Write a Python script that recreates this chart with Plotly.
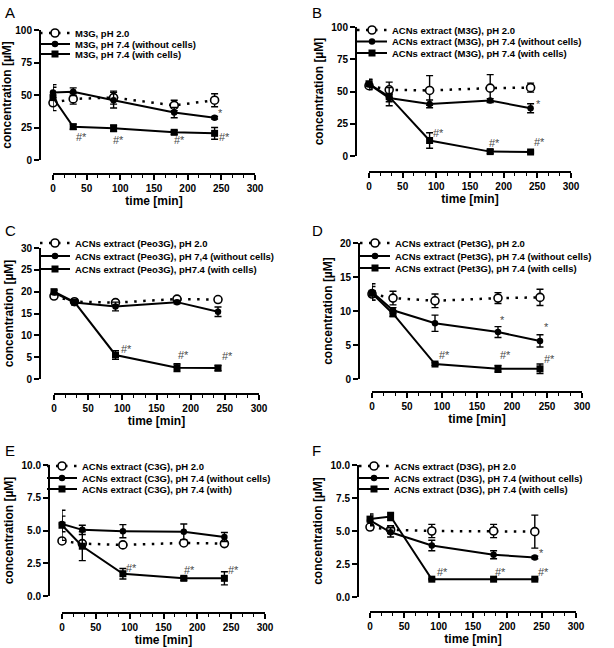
import plotly.graph_objects as go

# ---------------- data ----------------
time_min = [0, 30, 90, 180, 240]

# Panel A - M3G
A_ph2 = [44, 47, 48, 42, 46]
A_ph2_err = [2, 4, 5, 4, 5]
A_wo = [52, 52.5, 46, 36.5, 32.5]
A_wo_err = [4, 3, 6, 4, 1]
A_w = [48, 25.6, 24.4, 21.3, 20.5]
A_w_err = [10, 2, 2.5, 1.5, 4.5]

# Panel B - ACNs extract (M3G)
B_ph2 = [54.5, 51.3, 50.8, 52.6, 53]
B_ph2_err = [3, 6, 11.5, 10.5, 3.5]
B_wo = [55.5, 45, 40.4, 43, 37]
B_wo_err = [4, 3, 3, 1.5, 3.5]
B_w = [56, 46, 12, 3.4, 3.1]
B_w_err = [3, 7, 6, 1.5, 0.8]

# Panel C - ACNs extract (Peo3G)
C_ph2 = [19, 17.7, 17.5, 18.3, 18.2]
C_ph2_err = [0.3, 0.3, 0.5, 0.4, 0.4]
C_wo = [19.8, 17.5, 16.6, 17.6, 15.4]
C_wo_err = [0.5, 0.4, 1.0, 0.4, 1.1]
C_w = [20, 17.6, 5.5, 2.6, 2.5]
C_w_err = [0.4, 0.4, 1.0, 0.9, 0.6]

# Panel D - ACNs extract (Pet3G)
D_ph2 = [12.5, 11.9, 11.5, 11.9, 12]
D_ph2_err = [0.5, 1.0, 1.0, 0.8, 1.2]
D_wo = [12.8, 10.1, 8.2, 6.9, 5.6]
D_wo_err = [1.2, 0.4, 1.2, 0.8, 0.9]
D_w = [12.6, 9.6, 2.2, 1.5, 1.5]
D_w_err = [1.0, 0.4, 0.2, 0.5, 0.7]

# Panel E - ACNs extract (C3G)
E_ph2 = [4.2, 4.0, 3.9, 4.05, 4.0]
E_ph2_err = [0.15, 0.1, 0.1, 0.1, 0.1]
E_wo = [5.5, 5.05, 4.95, 4.9, 4.5]
E_wo_err = [0.6, 0.35, 0.5, 0.6, 0.35]
E_w = [5.4, 3.8, 1.7, 1.35, 1.35]
E_w_err = [1.15, 1.1, 0.4, 0.15, 0.5]

# Panel F - ACNs extract (D3G)
F_ph2 = [5.3, 5.1, 5.0, 5.0, 4.95]
F_ph2_err = [0.2, 0.3, 0.5, 0.5, 1.25]
F_wo = [5.8, 4.9, 3.9, 3.2, 3.0]
F_wo_err = [0.4, 0.35, 0.4, 0.3, 0.1]
F_w = [5.9, 6.1, 1.35, 1.35, 1.35]
F_w_err = [0.4, 0.3, 0.05, 0.05, 0.05]

# legend labels
A_names = ["M3G, pH 2.0", "M3G, pH 7.4 (without cells)", "M3G, pH 7.4 (with cells)"]
B_names = ["ACNs extract (M3G), pH 2.0", "ACNs extract (M3G), pH 7.4 (without cells)",
           "ACNs extract (M3G), pH 7.4 (with cells)"]
C_names = ["ACNs extract (Peo3G), pH 2.0", "ACNs extract (Peo3G), pH 7,4 (without cells)",
           "ACNs extract (Peo3G), pH7.4 (with cells)"]
D_names = ["ACNs extract (Pet3G), pH 2.0", "ACNs extract (Pet3G), pH 7.4 (without cells)",
           "ACNs extract (Pet3G), pH 7.4 (with cells)"]
E_names = ["ACNs extract (C3G), pH 2.0", "ACNs extract (C3G), pH 7.4 (without cells)",
           "ACNs extract (C3G), pH 7.4 (with)"]
F_names = ["ACNs extract (D3G), pH 2.0", "ACNs extract (D3G), pH 7.4 (without cells)",
           "ACNs extract (D3G), pH 7.4 (with cells)"]

# significance marks (label, time, concentration)
A_sig = [("#*", 42, 17.4), ("#*", 97, 15.4), ("#*", 188, 15.4), ("#*", 255, 18), ("*", 249, 36.4)]
B_sig = [("#*", 103, 17.6), ("#*", 187, 9.8), ("#*", 253, 11), ("*", 251, 40.4)]
C_sig = [("#*", 106, 6.9), ("#*", 190, 5.5), ("#*", 254, 5.2)]
D_sig = [("*", 186, 8.7), ("*", 249, 7.6), ("#*", 104, 3.5), ("#*", 190, 3.5), ("#*", 254, 3.0)]
E_sig = [("#*", 102, 2.1), ("#*", 188, 2.0), ("#*", 253, 2.0)]
F_sig = [("*", 250, 3.3), ("#*", 105, 1.9), ("#*", 190, 1.9), ("#*", 253, 1.9)]

# y-axis scales
A_yticks = [0, 25, 50, 75, 100]
B_yticks = [0, 25, 50, 75, 100]
C_yticks = [0, 5, 10, 15, 20, 25, 30]
D_yticks = [0, 5, 10, 15, 20]
E_yticks = [0.0, 2.5, 5.0, 7.5, 10.0]
F_yticks = [0.0, 2.5, 5.0, 7.5, 10.0]
x_ticks = [0, 50, 100, 150, 200, 250, 300]

# ---------------- layout geometry (page pixels in the 614x648 window) ----------------
W, H = 614, 648
FONT = "Arial, Liberation Sans, sans-serif"


def fx(px):
    return px / W


def fy(py):
    return 1 - py / H


panels = [
    dict(letter="A", series=[(A_ph2, A_ph2_err), (A_wo, A_wo_err), (A_w, A_w_err)], names=A_names,
         sig=A_sig, yticks=A_yticks, fmt="d",
         x0=53, x1=255, ytop=30, ybot=160, yaxis_px=40, xaxis_py=174,
         leg_text_x=75, leg_rows=[33, 44, 54], let_xy=(3, 2)),
    dict(letter="B", series=[(B_ph2, B_ph2_err), (B_wo, B_wo_err), (B_w, B_w_err)], names=B_names,
         sig=B_sig, yticks=B_yticks, fmt="d",
         x0=369, x1=571, ytop=27, ybot=156, yaxis_px=356, xaxis_py=172,
         leg_text_x=392, leg_rows=[30, 41.5, 53], let_xy=(310, 2)),
    dict(letter="C", series=[(C_ph2, C_ph2_err), (C_wo, C_wo_err), (C_w, C_w_err)], names=C_names,
         sig=C_sig, yticks=C_yticks, fmt="d",
         x0=54, x1=259, ytop=248, ybot=379, yaxis_px=40, xaxis_py=394,
         leg_text_x=75, leg_rows=[243, 256, 269], let_xy=(3, 220)),
    dict(letter="D", series=[(D_ph2, D_ph2_err), (D_wo, D_wo_err), (D_w, D_w_err)], names=D_names,
         sig=D_sig, yticks=D_yticks, fmt="d",
         x0=372, x1=582, ytop=243, ybot=379, yaxis_px=359, xaxis_py=392,
         leg_text_x=395, leg_rows=[243, 256, 268], let_xy=(310, 220)),
    dict(letter="E", series=[(E_ph2, E_ph2_err), (E_wo, E_wo_err), (E_w, E_w_err)], names=E_names,
         sig=E_sig, yticks=E_yticks, fmt=".1f",
         x0=62, x1=265, ytop=465, ybot=596, yaxis_px=49, xaxis_py=613,
         leg_text_x=82, leg_rows=[466, 478, 489], let_xy=(3, 440)),
    dict(letter="F", series=[(F_ph2, F_ph2_err), (F_wo, F_wo_err), (F_w, F_w_err)], names=F_names,
         sig=F_sig, yticks=F_yticks, fmt=".1f",
         x0=370, x1=576, ytop=465, ybot=597, yaxis_px=358, xaxis_py=612,
         leg_text_x=394, leg_rows=[466, 478, 489], let_xy=(310, 440)),
]

styles = [
    dict(line=dict(color="black", width=2.5, dash="2.5px,6.5px"),
         marker=dict(symbol="circle", size=8, color="white", line=dict(color="black", width=1.6))),
    dict(line=dict(color="black", width=2),
         marker=dict(symbol="circle", size=6.5, color="black")),
    dict(line=dict(color="black", width=2),
         marker=dict(symbol="square", size=7, color="black")),
]

fig = go.Figure()
layout = dict(
    template="none",
    width=W, height=H, margin=dict(l=0, r=0, t=0, b=0, autoexpand=False),
    paper_bgcolor="white", plot_bgcolor="white",
    font=dict(family=FONT, color="black"),
    showlegend=True,
)
annotations = []
leg_count = 0

for i, p in enumerate(panels):
    n = "" if i == 0 else str(i + 1)
    xa, ya = "xaxis" + n, "yaxis" + n
    xdom = [fx(p["x0"]), fx(p["x1"])]
    ydom = [fy(p["ybot"]), fy(p["ytop"])]
    layout[xa] = dict(
        domain=xdom, range=[0, 300], anchor="free", position=fy(p["xaxis_py"]),
        automargin=False,
        tickvals=x_ticks, ticks="outside", ticklen=5, tickwidth=1.5, tickcolor="black",
        showline=True, linecolor="black", linewidth=2, showgrid=False, zeroline=False,
        tickfont=dict(size=10, weight="bold", family=FONT),
        minor=dict(dtick=50 / 3, tick0=0, ticks="outside", ticklen=3, tickwidth=1.3,
                   tickcolor="black", showgrid=False),
        title=dict(text="time [min]", font=dict(size=12, weight="bold", family=FONT), standoff=3),
    )
    layout[ya] = dict(
        domain=ydom, range=[p["yticks"][0], p["yticks"][-1]], anchor="free",
        position=fx(p["yaxis_px"]), automargin=False,
        tickvals=p["yticks"], tickformat=p["fmt"], ticks="outside", ticklen=5, tickwidth=1.5,
        tickcolor="black",
        showline=True, linecolor="black", linewidth=2, showgrid=False, zeroline=False,
        tickfont=dict(size=10, weight="bold", family=FONT),
        title=dict(text="concentration [µM]", font=dict(size=12, weight="bold", family=FONT),
                   standoff=4),
    )
    for k, ((vals, errs), name, st) in enumerate(zip(p["series"], p["names"], styles)):
        leg_count += 1
        lid = "legend" if leg_count == 1 else "legend" + str(leg_count)
        fig.add_trace(go.Scatter(
            x=time_min, y=vals, name=name, mode="lines+markers",
            line=st["line"], marker=st["marker"],
            error_y=dict(type="data", array=errs, visible=True, color="black",
                         thickness=1.4, width=3.5),
            xaxis="x" + n, yaxis="y" + n, cliponaxis=False, legend=lid,
        ))
        layout[lid] = dict(
            x=fx(p["leg_text_x"] - 40), y=fy(p["leg_rows"][k]),
            xanchor="left", yanchor="middle", bgcolor="rgba(0,0,0,0)", borderwidth=0,
            itemwidth=30, font=dict(size=9.5, weight="bold", family=FONT, color="black"),
        )
    for label, tx, cy in p["sig"]:
        annotations.append(dict(
            x=tx, y=cy, xref="x" + n, yref="y" + n, text=label, showarrow=False,
            font=dict(size=11, color="#4a4a4a", family=FONT),
        ))
    lx, ly = p["let_xy"]
    annotations.append(dict(
        x=fx(lx), y=fy(ly), xref="paper", yref="paper", text=p["letter"],
        showarrow=False, xanchor="left", yanchor="top",
        font=dict(size=15, color="black", family=FONT),
    ))

layout["annotations"] = annotations
fig.update_layout(**layout)
fig.write_html("out.html", config={"displayModeBar": False},
               post_script="document.body.style.margin='0px';")
